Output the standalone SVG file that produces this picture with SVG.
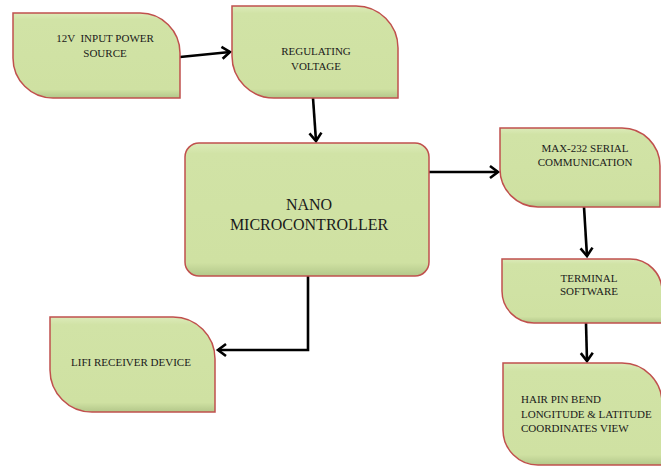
<svg xmlns="http://www.w3.org/2000/svg" width="661" height="466" viewBox="0 0 661 466">
<style>
.box{fill:url(#g);stroke:#c0504d;stroke-width:1.5}
.t{font-family:"Liberation Serif","Times New Roman",serif;font-size:11px;fill:#1a1a1a;text-anchor:middle}
.tl{text-anchor:start}
.big{font-size:16px}
.c{fill:none;stroke:#000;stroke-width:2.6;marker-end:url(#ah)}
</style>
<defs>
<linearGradient id="g" x1="0" y1="0" x2="0" y2="1">
<stop offset="0" stop-color="#dcebb9"/>
<stop offset="0.08" stop-color="#d1e3a6"/>
<stop offset="0.9" stop-color="#cfe1a2"/>
<stop offset="1" stop-color="#b3c78a"/>
</linearGradient>
<marker id="ah" markerUnits="userSpaceOnUse" markerWidth="20" markerHeight="20" viewBox="-12 -10 14 20" refX="0" refY="0" orient="auto">
<path d="M-8,-6 L0,0 L-8,6" fill="none" stroke="#000" stroke-width="2.6"/>
</marker>
</defs>
<g id="connectors">
<path class="c" d="M180 57 L230 52"/>
<path class="c" d="M313 98 L316 141"/>
<path class="c" d="M429 172 L498 172"/>
<path class="c" d="M584 207 L587 256"/>
<path class="c" d="M586 323 L587 361"/>
<path class="c" d="M308 276 V350 H218"/>
</g>
<g id="n-power">
<path class="box" d="M13 13 H140 A40 40 0 0 1 180 53 V98 H53 A40 40 0 0 1 13 58 Z"/>
<text class="t" x="105" y="42" xml:space="preserve">12V  INPUT POWER</text>
<text class="t" x="105" y="57">SOURCE</text>
</g>
<g id="n-regulating">
<path class="box" d="M232 6 H356 A42 42 0 0 1 398 48 V98 H274 A42 42 0 0 1 232 56 Z"/>
<text class="t" x="316" y="55">REGULATING</text>
<text class="t" x="316" y="70">VOLTAGE</text>
</g>
<g id="n-nano">
<rect class="box" x="185" y="143" width="244" height="133" rx="14" ry="14"/>
<text class="t big" x="309" y="210">NANO</text>
<text class="t big" x="309" y="230">MICROCONTROLLER</text>
</g>
<g id="n-max">
<path class="box" d="M500 128 H622 A38 38 0 0 1 660 166 V207 H538 A38 38 0 0 1 500 169 Z"/>
<text class="t" x="585" y="152">MAX-232 SERIAL</text>
<text class="t" x="585" y="166">COMMUNICATION</text>
</g>
<g id="n-terminal">
<path class="box" d="M502 259 H630 A32 32 0 0 1 662 291 V323 H534 A32 32 0 0 1 502 291 Z"/>
<text class="t" x="589" y="282">TERMINAL</text>
<text class="t" x="589" y="295">SOFTWARE</text>
</g>
<g id="n-hairpin">
<path class="box" d="M503 363 H622 A40 40 0 0 1 662 403 V465 H538 A35 35 0 0 1 503 430 Z"/>
<text class="t tl" x="521" y="403">HAIR PIN BEND</text>
<text class="t tl" x="521" y="418">LONGITUDE &amp; LATITUDE</text>
<text class="t tl" x="521" y="432">COORDINATES VIEW</text>
</g>
<g id="n-lifi">
<path class="box" d="M50 317 H173 A42 42 0 0 1 215 359 V412 H92 A42 42 0 0 1 50 370 Z"/>
<text class="t" x="131" y="366">LIFI RECEIVER DEVICE</text>
</g>
</svg>
